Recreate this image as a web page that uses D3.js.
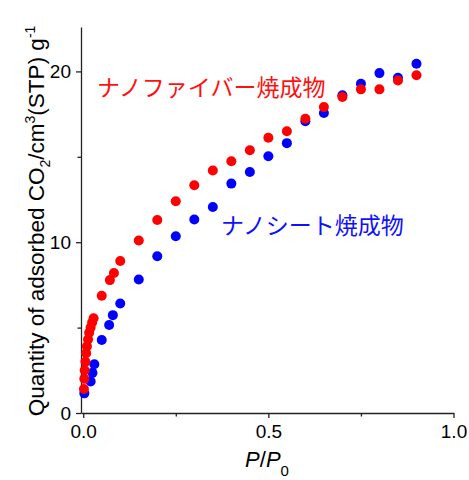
<!DOCTYPE html>
<html>
<head>
<meta charset="utf-8">
<script src="https://cdn.jsdelivr.net/npm/d3@7"></script>
<style>
  body { margin: 0; background: #fff; }
  svg { display: block; }
  .axis text { font-family: "Liberation Sans", Arial, sans-serif; font-size: 19px; fill: #000; }
  .axis path, .axis line { stroke: #222; stroke-width: 1.3; }
</style>
</head>
<body>
<div id="chart"></div>
<script>
// Chart size
var svgWidth = 469;
var svgHeight = 480;

// CO2 adsorption isotherm, nanosheet calcined (blue)
var sheetP = [0.003, 0.02, 0.025, 0.03, 0.05, 0.07, 0.08, 0.1, 0.15, 0.2, 0.25, 0.3, 0.35, 0.4,
  0.45, 0.5, 0.55, 0.6, 0.65, 0.7, 0.75, 0.8, 0.85, 0.9];
var sheetQ = [1.15, 1.85, 2.35, 2.85, 4.27, 5.15, 5.73, 6.41, 7.82, 9.18, 10.35, 11.33, 12.06, 13.43,
  14.11, 15.03, 15.8, 17.08, 17.56, 18.6, 19.28, 19.9, 19.63, 20.45];

// nanofiber calcined (red)
var fiberP = [0.002, 0.003, 0.004, 0.006, 0.008, 0.01, 0.013, 0.016, 0.02, 0.024, 0.028, 0.05, 0.072, 0.083,
  0.1, 0.15, 0.2, 0.25, 0.3, 0.35, 0.4, 0.45, 0.5, 0.55, 0.6, 0.65, 0.7, 0.75, 0.8, 0.85, 0.9];
var fiberQ = [1.4, 2.0, 2.5, 3.0, 3.5, 3.9, 4.3, 4.7, 5.0, 5.3, 5.55, 6.86, 7.78, 8.2,
  8.9, 10.1, 11.3, 12.4, 13.33, 14.2, 14.74, 15.38, 16.12, 16.5, 17.23, 17.91, 18.5, 18.95, 18.95, 19.47, 19.77];

// Tick values
var xMajorTicks = [0, 0.5, 1.0];
var xMinorTicks = [0.25, 0.75];
var yMajorTicks = [0, 10, 20];
var yMinorTicks = [5, 15];

var svg = d3.select("#chart")
  .append("svg")
  .attr("width", svgWidth)
  .attr("height", svgHeight);

var xScale = d3.scaleLinear()
  .domain([-0.006, 1.0])
  .range([81, 453.5]);

var yScale = d3.scaleLinear()
  .domain([0, 22.6])
  .range([413, 27]);

// x axis
svg.append("g")
  .attr("class", "axis")
  .attr("transform", `translate(0, ${yScale(0)})`)
  .call(d3.axisBottom(xScale).tickValues(xMajorTicks).tickFormat(d3.format(".1f"))
    .tickSize(5).tickSizeOuter(0).tickPadding(7));

svg.append("g")
  .attr("class", "axis")
  .attr("transform", `translate(0, ${yScale(0)})`)
  .call(d3.axisBottom(xScale).tickValues(xMinorTicks).tickFormat("")
    .tickSize(3.5).tickSizeOuter(0))
  .select(".domain").remove();

// y axis
svg.append("g")
  .attr("class", "axis")
  .attr("transform", `translate(${xScale.range()[0]}, 0)`)
  .call(d3.axisLeft(yScale).tickValues(yMajorTicks).tickSize(5).tickSizeOuter(0).tickPadding(5));

svg.append("g")
  .attr("class", "axis")
  .attr("transform", `translate(${xScale.range()[0]}, 0)`)
  .call(d3.axisLeft(yScale).tickValues(yMinorTicks).tickFormat("").tickSize(3.5).tickSizeOuter(0))
  .select(".domain").remove();

// points: blue first, red on top
svg.append("g").selectAll("circle")
  .data(d3.zip(sheetP, sheetQ))
  .enter().append("circle")
  .attr("cx", d => xScale(d[0]))
  .attr("cy", d => yScale(d[1]))
  .attr("r", 5)
  .attr("fill", "#0000ff");

svg.append("g").selectAll("circle")
  .data(d3.zip(fiberP, fiberQ))
  .enter().append("circle")
  .attr("cx", d => xScale(d[0]))
  .attr("cy", d => yScale(d[1]))
  .attr("r", 5)
  .attr("fill", "#ff0000");

// series labels
svg.append("text")
  .attr("x", 97)
  .attr("y", 96)
  .attr("font-family", "'Noto Sans CJK JP', sans-serif")
  .attr("font-size", "23px")
  .attr("fill", "#ff1010")
  .text("ナノファイバー焼成物");

svg.append("text")
  .attr("x", 221)
  .attr("y", 234)
  .attr("font-family", "'Noto Sans CJK JP', sans-serif")
  .attr("font-size", "23px")
  .attr("fill", "#1010ff")
  .text("ナノシート焼成物");

// y axis title
var yTitle = svg.append("text")
  .attr("transform", "translate(44, 221) rotate(-90)")
  .attr("text-anchor", "middle")
  .attr("font-family", "'Liberation Sans', Arial, sans-serif")
  .attr("font-size", "22.5px")
  .attr("fill", "#000");
yTitle.append("tspan").text("Quantity of adsorbed CO");
yTitle.append("tspan").attr("font-size", "14px").attr("dy", 6).text("2");
yTitle.append("tspan").attr("dy", -6).text("/cm");
yTitle.append("tspan").attr("font-size", "14px").attr("dy", -9).text("3");
yTitle.append("tspan").attr("dy", 9).text("(STP) g");
yTitle.append("tspan").attr("font-size", "14px").attr("dy", -9).text("-1");

// x axis title
var xTitle = svg.append("text")
  .attr("x", 267)
  .attr("y", 467)
  .attr("text-anchor", "middle")
  .attr("font-family", "'Liberation Sans', Arial, sans-serif")
  .attr("font-size", "22px")
  .attr("fill", "#000");
xTitle.append("tspan").attr("font-style", "italic").text("P");
xTitle.append("tspan").text("/");
xTitle.append("tspan").attr("font-style", "italic").text("P");
xTitle.append("tspan").attr("font-size", "15px").attr("dy", 9).text("0");
</script>
</body>
</html>
